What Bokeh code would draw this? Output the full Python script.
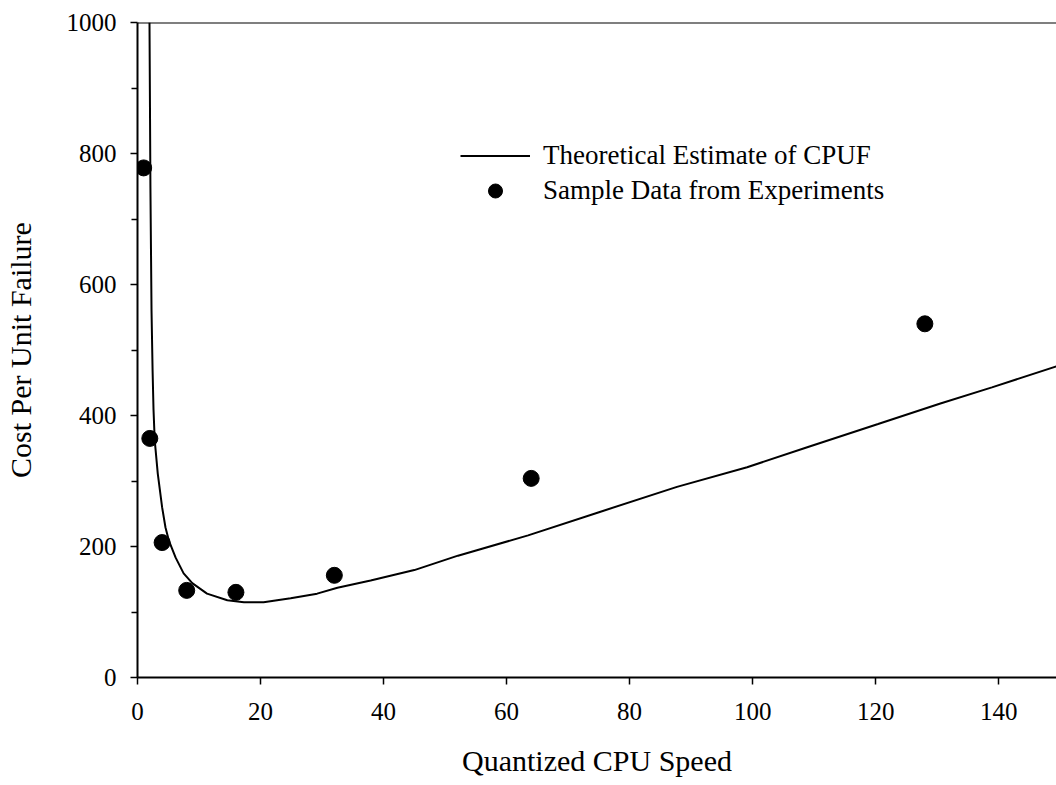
import numpy as np
from bokeh.plotting import figure
from bokeh.models import Range1d, FixedTicker, Span, Legend, LegendItem
from bokeh.embed import file_html
from bokeh.resources import INLINE

# Theoretical estimate of CPUF
curve_x = [1.95, 2.1, 2.28, 2.45, 2.6, 2.8, 3.3, 4.0, 4.55, 5.1, 6.2, 7.5, 8.9,
           11.3, 14.6, 17.3, 20.5, 24.9, 29.2, 32.5, 37.9, 45.0, 52.1, 63.5,
           74.9, 87.7, 99.1, 109.0, 120.4, 130.4, 138.9, 149.4]
curve_y = [1000, 750, 560, 470, 410, 362, 311, 260, 229, 209, 183, 159, 144,
           128, 118, 115, 115, 121, 128, 137, 148, 164, 186, 217,
           252, 291, 321, 352, 387, 418, 443, 475]

# Sample data from experiments
speeds = [1, 2, 4, 8, 16, 32, 64, 128]
costs = [778, 365, 206, 133, 130, 156, 304, 540]

x_ticks = [0, 20, 40, 60, 80, 100, 120, 140]
y_ticks = [0, 200, 400, 600, 800, 1000]
y_minor = [100, 300, 500, 700, 900]

FONT = "Liberation Serif"

p = figure(width=1056, height=785, output_backend="svg", toolbar_location=None,
           x_range=Range1d(0, 149.4), y_range=Range1d(0, 1000),
           min_border_left=137, min_border_right=0, min_border_top=22,
           min_border_bottom=108)
p.outline_line_color = None
p.grid.visible = False
p.background_fill_color = "white"
p.border_fill_color = "white"

ln = p.line(curve_x, curve_y, line_color="black", line_width=2)
sc = p.scatter(speeds, costs, size=16, fill_color="black", line_color="black")

xa = p.xaxis[0]
xa.ticker = FixedTicker(ticks=x_ticks)
xa.major_label_text_font = FONT
xa.major_label_text_font_size = "25px"
xa.major_label_text_color = "black"
xa.major_label_standoff = 18
xa.major_tick_out = 7
xa.major_tick_in = 0
xa.minor_tick_out = 0
xa.minor_tick_in = 0
xa.axis_line_width = 2
xa.major_tick_line_width = 1.5
xa.axis_label = "Quantized CPU Speed"
xa.axis_label_text_font = FONT
xa.axis_label_text_font_size = "30px"
xa.axis_label_text_font_style = "normal"
xa.axis_label_text_color = "black"
xa.axis_label_standoff = 21

ya = p.yaxis[0]
ya.ticker = FixedTicker(ticks=y_ticks, minor_ticks=y_minor)
ya.major_label_text_font = FONT
ya.major_label_text_font_size = "25px"
ya.major_label_text_color = "black"
ya.major_label_standoff = 14
ya.major_tick_out = 7
ya.major_tick_in = 0
ya.minor_tick_out = 6
ya.minor_tick_in = 0
ya.axis_line_width = 2
ya.major_tick_line_width = 1.5
ya.minor_tick_line_width = 1.5
ya.axis_label = "Cost Per Unit Failure"
ya.axis_label_text_font = FONT
ya.axis_label_text_font_size = "30px"
ya.axis_label_text_font_style = "normal"
ya.axis_label_text_color = "black"
ya.axis_label_standoff = 27

p.add_layout(Span(location=1000, dimension="width", line_color="black", line_width=2))

legend = Legend(items=[LegendItem(label="Theoretical Estimate of CPUF", renderers=[ln]),
                       LegendItem(label="Sample Data from Experiments", renderers=[sc])],
                location=(323, 469), orientation="vertical",
                label_text_font=FONT, label_text_font_size="27px", label_text_color="black",
                glyph_width=70, glyph_height=35, label_height=35, label_standoff=13,
                spacing=0, padding=0, margin=0,
                border_line_color=None, background_fill_alpha=0)
p.add_layout(legend)

open("out.html", "w").write(file_html(p, INLINE))
